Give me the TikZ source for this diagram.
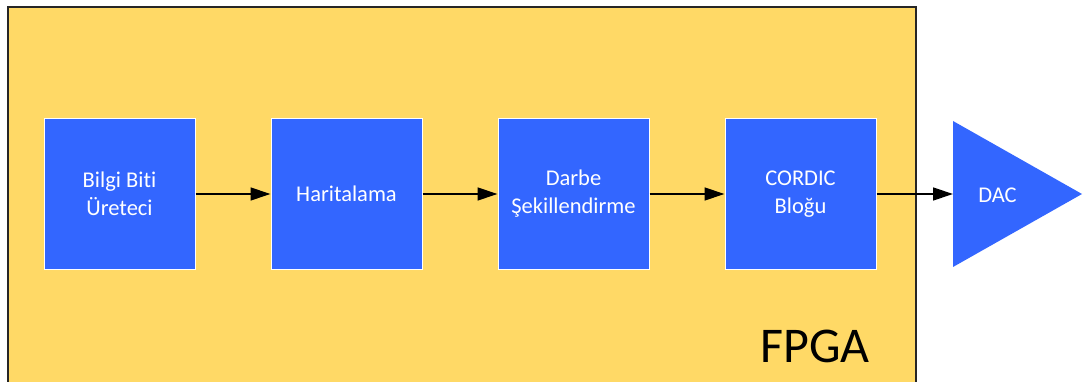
\documentclass[tikz,border=0pt]{standalone}
\usepackage{fontspec}
\setmainfont{Carlito}[Ligatures=NoCommon]
\usetikzlibrary{arrows.meta}
\definecolor{fpgafill}{HTML}{FFD966}
\definecolor{blockblue}{HTML}{3366FF}
\begin{document}
\begin{tikzpicture}[x=1pt,y=-1pt,
  block/.style={draw=white, line width=1pt, fill=blockblue,
    minimum width=151pt, minimum height=151pt, inner sep=0pt,
    text=white, align=center, font=\fontsize{22.5}{28}\selectfont},
  link/.style={line width=1.3pt, -{Triangle[length=20pt,width=13pt]}}]
\useasboundingbox (0,0) rectangle (1085,382);
\clip (0,0) rectangle (1085,382);
\fill[white] (0,0) rectangle (1085,382);
% FPGA container, running off the bottom edge
\node[draw=black!85, line width=2pt, fill=fpgafill, anchor=north west,
  minimum width=908pt, minimum height=400pt, inner sep=0pt] (fpga) at (7,6) {};
\node[font=\fontsize{50}{60}\selectfont, anchor=base, inner sep=0pt] (fpgalabel) at (815,362) {FPGA};
% processing chain
\node[block] (b1) at (119.5,194) {Bilgi Biti\\Üreteci};
\node[block] (b2) at (346.5,194) {Haritalama};
\node[block] (b3) at (573.5,194) {Darbe\\Şekillendirme};
\node[block] (b4) at (800.5,194) {CORDIC\\Bloğu};
% DAC triangle
\fill[blockblue] (953,121) -- (1082,194) -- (953,267) -- cycle;
\coordinate (dacin) at (953,194);
\node[text=white, font=\fontsize{22.5}{28}\selectfont] (dac) at (997.5,195) {DAC};
% connectors
\draw[link] (b1.east) -- (b2.west);
\draw[link] (b2.east) -- (b3.west);
\draw[link] (b3.east) -- (b4.west);
\draw[link] (b4.east) -- (dacin);
\end{tikzpicture}
\end{document}
